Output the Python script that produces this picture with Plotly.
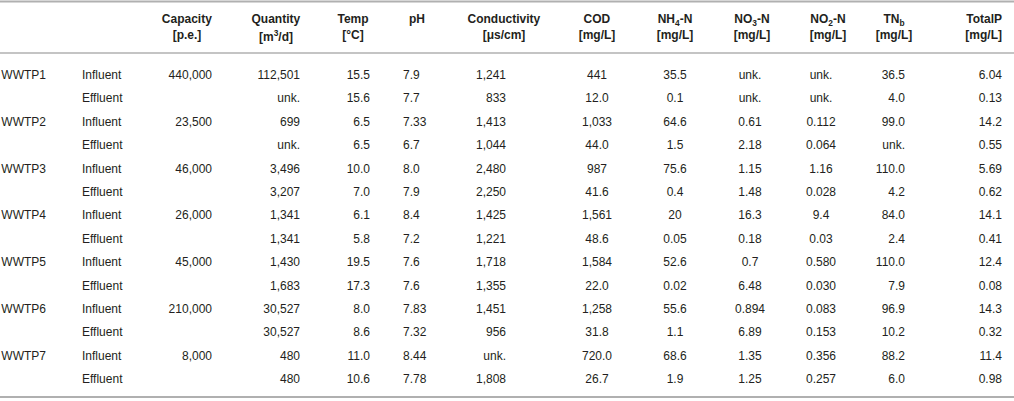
import plotly.graph_objects as go

plants = ["WWTP1", "", "WWTP2", "", "WWTP3", "", "WWTP4", "", "WWTP5", "", "WWTP6", "", "WWTP7", ""]
streams = ["Influent", "Effluent"] * 7
capacity = ["440,000", "", "23,500", "", "46,000", "", "26,000", "", "45,000", "", "210,000", "", "8,000", ""]
quantity = ["112,501", "unk.", "699", "unk.", "3,496", "3,207", "1,341", "1,341", "1,430", "1,683", "30,527", "30,527", "480", "480"]
temp = ["15.5", "15.6", "6.5", "6.5", "10.0", "7.0", "6.1", "5.8", "19.5", "17.3", "8.0", "8.6", "11.0", "10.6"]
ph = ["7.9", "7.7", "7.33", "6.7", "8.0", "7.9", "8.4", "7.2", "7.6", "7.6", "7.83", "7.32", "8.44", "7.78"]
conductivity = ["1,241", "833", "1,413", "1,044", "2,480", "2,250", "1,425", "1,221", "1,718", "1,355", "1,451", "956", "unk.", "1,808"]
cod = ["441", "12.0", "1,033", "44.0", "987", "41.6", "1,561", "48.6", "1,584", "22.0", "1,258", "31.8", "720.0", "26.7"]
nh4_n = ["35.5", "0.1", "64.6", "1.5", "75.6", "0.4", "20", "0.05", "52.6", "0.02", "55.6", "1.1", "68.6", "1.9"]
no3_n = ["unk.", "unk.", "0.61", "2.18", "1.15", "1.48", "16.3", "0.18", "0.7", "6.48", "0.894", "6.89", "1.35", "1.25"]
no2_n = ["unk.", "unk.", "0.112", "0.064", "1.16", "0.028", "9.4", "0.03", "0.580", "0.030", "0.083", "0.153", "0.356", "0.257"]
tn_b = ["36.5", "4.0", "99.0", "unk.", "110.0", "4.2", "84.0", "2.4", "110.0", "7.9", "96.9", "10.2", "88.2", "6.0"]
total_p = ["6.04", "0.13", "14.2", "0.55", "5.69", "0.62", "14.1", "0.41", "12.4", "0.08", "14.3", "0.32", "11.4", "0.98"]

head_names = ["", "Capacity", "Quantity", "Temp", "pH", "Conductivity", "COD",
              "NH<sub>4</sub>-N", "NO<sub>3</sub>-N", "NO<sub>2</sub>-N", "TN<sub>b</sub>", "TotalP", ""]
head_units = ["", "[p.e.]", "[m<sup>3</sup>/d]", "[°C]", "", "[μs/cm]", "[mg/L]",
              "[mg/L]", "[mg/L]", "[mg/L]", "[mg/L]", "[mg/L]", ""]

W, H = 1014, 401
TXT = "#231f20"
RULE = "#b0b0b0"
FONT = "Liberation Sans, Arial, sans-serif"
NONE = "rgba(0,0,0,0)"
row_h = 23.4

def bold(s):
    return "<b>%s</b>" % s if s else ""

def px(top, bottom):
    # domain from pixel rows, counted from the top
    return [1 - bottom / H, 1 - top / H]

# body block
blank = [""] * len(plants)
body_cols = [plants, blank, streams, capacity, quantity, temp, blank, ph, conductivity,
             blank, cod, nh4_n, no3_n, no2_n, tn_b, total_p, blank]
body_w = [54, 20, 76, 70, 88, 70, 17, 75, 44, 40, 86, 70, 80, 62, 61, 97, 4]
body_al = ["right", "left", "left", "right", "right", "right", "left", "left", "right",
           "left", "center", "center", "center", "center", "right", "right", "left"]

body = go.Table(
    domain=dict(x=[0, 1], y=px(42, H)),
    columnwidth=body_w,
    header=dict(values=[""] * len(body_cols), height=20,
                fill_color=NONE, line=dict(color=NONE, width=0)),
    cells=dict(
        values=body_cols,
        align=body_al,
        height=row_h,
        fill_color=NONE,
        line=dict(color=NONE, width=0),
        font=dict(family=FONT, size=12, color=TXT),
    ),
)

# header block: own column grid, one table per text line
head_w = [150, 74, 104, 50, 78, 96, 90, 66, 88, 64, 68, 82, 4]
head_al = ["center"] * 11 + ["right", "left"]

def head_line(texts, top):
    return go.Table(
        domain=dict(x=[0, 1], y=px(top, top + 34)),
        columnwidth=head_w,
        header=dict(
            values=[bold(s) for s in texts],
            align=head_al,
            height=18,
            fill_color=NONE,
            line=dict(color=NONE, width=0),
            font=dict(family=FONT, size=12, color=TXT),
        ),
        cells=dict(values=[[] for _ in head_w]),
    )

fig = go.Figure([body, head_line(head_names, 4), head_line(head_units, 20)])
for y, w in [(1.5, 2), (53, 1.5), (397, 2)]:
    fig.add_shape(type="line", xref="paper", yref="paper", x0=0, x1=1,
                  y0=1 - y / H, y1=1 - y / H, line=dict(color=RULE, width=w))

fig.update_layout(
    width=W, height=H,
    margin=dict(l=0, r=0, t=0, b=0),
    paper_bgcolor="white",
    plot_bgcolor="white",
)

# page body margin off, so the figure fills the window
fig.write_html("out.html", config={"displayModeBar": False},
               post_script="document.body.style.margin='0';")
